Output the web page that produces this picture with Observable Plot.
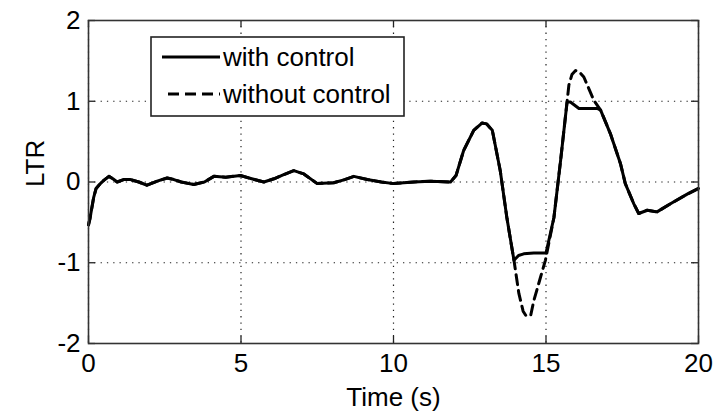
<!DOCTYPE html>
<html>
<head>
<meta charset="utf-8">
<script src="https://cdn.jsdelivr.net/npm/d3@7"></script>
<script src="https://cdn.jsdelivr.net/npm/@observablehq/plot@0.6"></script>
<style>
  html, body { margin: 0; padding: 0; background: #fff; }
  #chart { position: relative; width: 717px; height: 415px; }
</style>
</head>
<body>
<div id="chart"></div>
<script>
// ---- Data ----
const xTicks = [0, 5, 10, 15, 20];
const yTicks = [-2, -1, 0, 1, 2];
const seriesNames = ["with control", "without control"];

const withTime = [0, 0.05, 0.17, 0.25, 0.39, 0.5, 0.67, 0.8, 0.94, 1.15, 1.38, 1.65, 1.92, 2.25, 2.58, 2.8, 3.04, 3.45, 3.8, 4.11, 4.5, 4.98, 5.35, 5.75, 6.08, 6.4, 6.73, 7.06, 7.5, 8.04, 8.4, 8.7, 9.14, 9.6, 10.01, 10.67, 11.21, 11.87, 12.05, 12.3, 12.63, 12.9, 13.05, 13.24, 13.5, 13.72, 13.95, 14.1, 14.27, 14.6, 15.0, 15.26, 15.48, 15.69, 15.8, 16.08, 16.68, 16.79, 17.11, 17.44, 17.6, 17.88, 18.04, 18.32, 18.64, 19.08, 19.63, 20.0];
const withLTR  = [-0.53, -0.45, -0.19, -0.08, -0.02, 0.02, 0.07, 0.04, 0.0, 0.03, 0.03, 0.0, -0.04, 0.01, 0.05, 0.03, 0.0, -0.03, 0.0, 0.07, 0.06, 0.08, 0.04, 0.0, 0.04, 0.09, 0.14, 0.1, -0.02, -0.01, 0.03, 0.07, 0.03, 0.0, -0.02, 0.0, 0.01, 0.0, 0.08, 0.39, 0.64, 0.73, 0.72, 0.64, 0.14, -0.45, -0.97, -0.91, -0.89, -0.88, -0.88, -0.44, 0.27, 0.99, 0.99, 0.91, 0.91, 0.89, 0.6, 0.23, -0.02, -0.27, -0.39, -0.35, -0.37, -0.27, -0.15, -0.08];

const withoutTime = [0, 0.05, 0.17, 0.25, 0.39, 0.5, 0.67, 0.8, 0.94, 1.15, 1.38, 1.65, 1.92, 2.25, 2.58, 2.8, 3.04, 3.45, 3.8, 4.11, 4.5, 4.98, 5.35, 5.75, 6.08, 6.4, 6.73, 7.06, 7.5, 8.04, 8.4, 8.7, 9.14, 9.6, 10.01, 10.67, 11.21, 11.87, 12.05, 12.3, 12.63, 12.9, 13.05, 13.24, 13.5, 13.72, 13.95, 14.11, 14.25, 14.35, 14.5, 14.6, 14.82, 14.98, 15.26, 15.48, 15.69, 15.75, 15.85, 15.97, 16.1, 16.24, 16.4, 16.57, 16.79, 17.11, 17.44, 17.6, 17.88, 18.04, 18.32, 18.64, 19.08, 19.63, 20.0];
const withoutLTR  = [-0.53, -0.45, -0.19, -0.08, -0.02, 0.02, 0.07, 0.04, 0.0, 0.03, 0.03, 0.0, -0.04, 0.01, 0.05, 0.03, 0.0, -0.03, 0.0, 0.07, 0.06, 0.08, 0.04, 0.0, 0.04, 0.09, 0.14, 0.1, -0.02, -0.01, 0.03, 0.07, 0.03, 0.0, -0.02, 0.0, 0.01, 0.0, 0.08, 0.39, 0.64, 0.73, 0.72, 0.64, 0.14, -0.45, -0.97, -1.38, -1.6, -1.66, -1.65, -1.47, -1.18, -0.97, -0.44, 0.27, 0.99, 1.2, 1.33, 1.38, 1.36, 1.3, 1.16, 1.01, 0.89, 0.6, 0.23, -0.02, -0.27, -0.39, -0.35, -0.37, -0.27, -0.15, -0.08];

const withData = withTime.map((t, i) => ({t, v: withLTR[i]}));
const withoutData = withoutTime.map((t, i) => ({t, v: withoutLTR[i]}));

const W = 717, H = 415;
const mL = 88, mR = 19, mT = 20, mB = 72;
const innerH = H - mT - mB;
const innerW = W - mL - mR;
const tickLen = 7;
const font = "'Liberation Sans', Arial, Helvetica, sans-serif";
const fmt = d => String(d);

const chart = Plot.plot({
  width: W, height: H,
  marginLeft: mL, marginRight: mR, marginTop: mT, marginBottom: mB,
  style: {fontFamily: font, fontSize: "26px", color: "#000", background: "#fff"},
  x: {domain: [0, 20], ticks: xTicks},
  y: {domain: [-2, 2], ticks: yTicks},
  marks: [
    // dotted grid
    Plot.ruleX(xTicks, {x: d => d, stroke: "#222", strokeWidth: 1.2, strokeDasharray: "1.3,5"}),
    Plot.ruleY(yTicks, {y: d => d, stroke: "#222", strokeWidth: 1.2, strokeDasharray: "1.3,5"}),
    // inward ticks on all four sides
    Plot.tickX(xTicks, {x: d => d, insetTop: innerH - tickLen, stroke: "#222", strokeWidth: 1.3}),
    Plot.tickX(xTicks, {x: d => d, insetBottom: innerH - tickLen, stroke: "#222", strokeWidth: 1.3}),
    Plot.tickY(yTicks, {y: d => d, insetRight: innerW - tickLen, stroke: "#222", strokeWidth: 1.3}),
    Plot.tickY(yTicks, {y: d => d, insetLeft: innerW - tickLen, stroke: "#222", strokeWidth: 1.3}),
    // tick labels
    Plot.axisX(xTicks, {tickSize: 0, tickPadding: 10, label: null, fontSize: 26, tickFormat: fmt}),
    Plot.axisY(yTicks, {tickSize: 0, tickPadding: 8, label: null, fontSize: 26, tickFormat: fmt}),
    // axis titles
    Plot.text(["Time (s)"], {frameAnchor: "bottom", text: d => d, lineAnchor: "top", dy: 44, fontSize: 26, fill: "#000"}),
    Plot.text(["LTR"], {frameAnchor: "left", text: d => d, rotate: -90, dx: -53, dy: 5, fontSize: 26, fill: "#000"}),
    // data
    Plot.line(withoutData, {x: "t", y: "v", stroke: "#000", strokeWidth: 3, strokeDasharray: "10,6"}),
    Plot.line(withData, {x: "t", y: "v", stroke: "#000", strokeWidth: 3}),
    Plot.frame({stroke: "#333", strokeWidth: 1.6})
  ]
});

// legend box (MATLAB style) drawn on top of the plot
const svg = d3.select(chart);
const lg = svg.append("g").attr("font-family", font).attr("font-size", 26).attr("text-anchor", "start");
lg.append("rect").attr("x", 151).attr("y", 37).attr("width", 253).attr("height", 79)
  .attr("fill", "#fff").attr("stroke", "#222").attr("stroke-width", 1.6);
const rows = [
  {name: seriesNames[0], dash: null, y: 57, x1: 162},
  {name: seriesNames[1], dash: "11,6", y: 94, x1: 168}
];
rows.forEach(r => {
  const ln = lg.append("line").attr("x1", r.x1).attr("x2", 220).attr("y1", r.y).attr("y2", r.y)
    .attr("stroke", "#000").attr("stroke-width", 3);
  if (r.dash) ln.attr("stroke-dasharray", r.dash);
  lg.append("text").attr("x", 223).attr("y", r.y).attr("dy", "0.36em")
    .attr("text-anchor", "start").attr("fill", "#000").text(r.name);
});

document.getElementById("chart").appendChild(chart);
</script>
</body>
</html>
